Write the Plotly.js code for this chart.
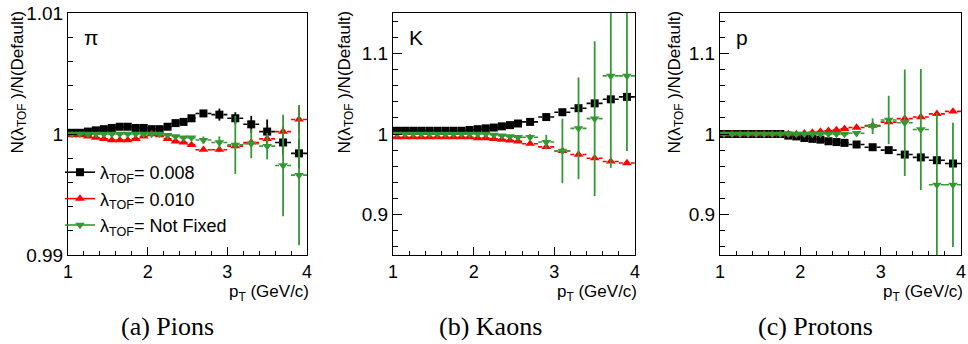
<!DOCTYPE html>
<html><head><meta charset="utf-8">
<script src="https://cdn.plot.ly/plotly-3.0.1.min.js"></script>
<style>html,body{margin:0;padding:0;background:#fff}#chart{width:968px;height:344px}</style>
</head><body><div id="chart"></div>
<script>
// ---- data ----
const pT = [1.05,1.15,1.25,1.35,1.45,1.55,1.65,1.75,1.85,1.95,2.05,2.15,2.25,2.35,2.45,2.55,2.7,2.9,3.1,3.3,3.5,3.7,3.9];
const pTHalfWidth = [0.05,0.05,0.05,0.05,0.05,0.05,0.05,0.05,0.05,0.05,0.05,0.05,0.05,0.05,0.05,0.05,0.1,0.1,0.1,0.1,0.1,0.1,0.1];

const seriesNames = ["λ<sub>TOF</sub>= 0.008", "λ<sub>TOF</sub>= 0.010", "λ<sub>TOF</sub>= Not Fixed"];

// Pions
const pion008 = [1.0001,1.0001,1.0002,1.0003,1.0004,1.0005,1.0006,1.0006,1.0005,1.0005,1.0004,1.0004,1.0006,1.0009,1.0010,1.0013,1.0017,1.0016,1.0013,1.0008,1.0002,0.9993,0.9984];
const pion008Err = [0.00005,0.00005,0.00005,0.00005,0.00005,0.00005,0.00005,0.00005,0.00005,0.00005,0.00005,0.00005,0.00005,0.00005,0.00005,0.00005,0.0002,0.0005,0.0005,0.0007,0.0010,0.0010,0.0012];
const pion010 = [0.9999,0.9999,0.9998,0.9997,0.9996,0.9995,0.9995,0.9995,0.9996,0.9998,1.0000,0.9999,0.9996,0.9994,0.9993,0.9991,0.9987,0.9987,0.9990,0.9993,0.9996,1.0002,1.0012];
const pion010Err = [0.00005,0.00005,0.00005,0.00005,0.00005,0.00005,0.00005,0.00005,0.00005,0.00005,0.00005,0.00005,0.00005,0.00005,0.00005,0.00005,0.0001,0.0002,0.0002,0.0003,0.0003,0.0004,0.0011];
const pionFree = [1.0000,1.0000,1.0000,1.0000,1.0000,1.0000,1.0000,1.0000,1.0000,1.0000,1.0000,1.0000,0.9999,0.9998,0.9997,0.9997,0.9995,0.9993,0.9991,0.9992,0.9990,0.9974,0.9966];
const pionFreeErr = [0.00005,0.00005,0.00005,0.00005,0.00005,0.00005,0.00005,0.00005,0.00005,0.00005,0.00005,0.00005,0.0001,0.0001,0.0001,0.0001,0.0003,0.0005,0.0024,0.0012,0.0011,0.0042,0.0058];

// Kaons
const kaon008 = [1.004,1.004,1.004,1.004,1.004,1.004,1.004,1.004,1.004,1.005,1.006,1.007,1.008,1.0095,1.011,1.013,1.015,1.021,1.027,1.032,1.038,1.043,1.046];
const kaon008Err = [0.0003,0.0003,0.0003,0.0003,0.0003,0.0003,0.0003,0.0003,0.0003,0.0003,0.0003,0.0003,0.0003,0.0003,0.0003,0.0003,0.0008,0.001,0.0015,0.002,0.002,0.003,0.003];
const kaon010 = [0.996,0.996,0.996,0.996,0.996,0.996,0.996,0.996,0.996,0.996,0.995,0.995,0.994,0.993,0.992,0.991,0.988,0.984,0.979,0.9745,0.970,0.966,0.964];
const kaon010Err = [0.0003,0.0003,0.0003,0.0003,0.0003,0.0003,0.0003,0.0003,0.0003,0.0003,0.0003,0.0003,0.0003,0.0003,0.0003,0.0003,0.0005,0.0008,0.001,0.0012,0.0015,0.002,0.002];
const kaonFree = [1.000,1.000,1.000,1.000,1.000,1.000,1.000,1.000,1.000,1.000,1.000,1.000,0.999,0.998,0.997,0.996,0.996,0.990,0.979,1.007,1.019,1.072,1.072];
const kaonFreeErr = [0.0005,0.0005,0.0005,0.0005,0.0005,0.0005,0.0005,0.0005,0.0005,0.0005,0.0005,0.0005,0.001,0.001,0.0015,0.0015,0.004,0.009,0.040,0.063,0.096,0.114,0.093];

// Protons
const proton008 = [1.000,1.000,1.000,1.000,1.000,1.000,1.000,1.000,0.998,0.997,0.995,0.994,0.993,0.991,0.990,0.989,0.987,0.9836,0.980,0.9745,0.971,0.9675,0.9634];
const proton008Err = [0.0003,0.0003,0.0003,0.0003,0.0003,0.0003,0.0003,0.0003,0.0003,0.0003,0.0003,0.0003,0.0003,0.0003,0.0003,0.0003,0.0008,0.001,0.0012,0.0015,0.0018,0.002,0.0025];
const proton010 = [1.000,1.000,1.000,1.000,1.000,1.000,1.000,1.000,1.000,1.000,1.001,1.002,1.003,1.004,1.005,1.0065,1.008,1.0105,1.0147,1.019,1.021,1.025,1.028];
const proton010Err = [0.0003,0.0003,0.0003,0.0003,0.0003,0.0003,0.0003,0.0003,0.0003,0.0003,0.0003,0.0003,0.0003,0.0003,0.0003,0.0003,0.0005,0.0008,0.001,0.0012,0.0015,0.002,0.002];
const protonFree = [1.000,1.000,1.000,1.000,1.000,1.000,1.000,1.000,1.000,1.000,1.000,1.000,1.000,1.000,1.000,1.000,1.001,1.0097,1.0174,1.014,1.0056,0.937,0.937];
const protonFreeErr = [0.0005,0.0005,0.0005,0.0005,0.0005,0.0005,0.0005,0.0005,0.0005,0.0005,0.0005,0.0005,0.0005,0.0005,0.0005,0.0005,0.002,0.0097,0.030,0.066,0.075,0.089,0.077];

const particleLabels = ["π", "K", "p"];
const captions = ["(a) Pions", "(b) Kaons", "(c) Protons"];
const xTitle = "p<sub>T</sub> (GeV/c)";
const yTitle = "N(λ<sub>TOF</sub> )/N(Default)";

// ---- styles / layout ----
const W = 968, H = 344;
const fx = v => v / W, fy = v => 1 - v / H;
const FONT = "Liberation Sans, Arial, Helvetica, sans-serif";
const colors = ["#000000", "#ff0000", "#339933"];
const symbols = ["square", "triangle-up", "triangle-down"];
const msize = [8, 8.5, 8.5];

const panels = [
  {vals:[pion008,pion010,pionFree], errs:[pion008Err,pion010Err,pionFreeErr], xpx:[68,307], yrange:[0.99,1.01], ydtick:0.01, yminor:0.002, ytitleX:18},
  {vals:[kaon008,kaon010,kaonFree], errs:[kaon008Err,kaon010Err,kaonFreeErr], xpx:[393,635], yrange:[0.85,1.15], ydtick:0.1, yminor:0.02, ytitleX:345},
  {vals:[proton008,proton010,protonFree], errs:[proton008Err,proton010Err,protonFreeErr], xpx:[720,961], yrange:[0.85,1.15], ydtick:0.1, yminor:0.02, ytitleX:675}
];
const yDomain = [fy(255), fy(13)];

const traces = [];
const layout = {
  width: W, height: H,
  margin: {l:0, r:0, t:0, b:0},
  paper_bgcolor: "#ffffff", plot_bgcolor: "#ffffff",
  font: {family: FONT, color: "#000", size: 16},
  showlegend: true,
  legend: {x: fx(60), y: fy(154), xanchor: "left", yanchor: "top", bgcolor: "rgba(0,0,0,0)",
           font: {family: FONT, size: 18, color: "#000"}, traceorder: "grouped", tracegroupgap: 0,
           itemwidth: 30},
  annotations: []
};

panels.forEach((p, i) => {
  const k = i === 0 ? "" : String(i + 1);
  const xa = "x" + k, ya = "y" + k;
  layout["xaxis" + k] = {
    domain: [fx(p.xpx[0]), fx(p.xpx[1])], anchor: ya, range: [1, 4], tick0: 1, dtick: 1,
    ticks: "inside", ticklen: 8, tickwidth: 1, tickcolor: "#000",
    minor: {dtick: 0.2, ticks: "inside", ticklen: 4, tickwidth: 1, tickcolor: "#000", showgrid: false},
    showline: true, mirror: true, linecolor: "#000", linewidth: 1,
    showgrid: false, zeroline: false, tickfont: {size: 18, family: FONT}, fixedrange: true
  };
  layout["yaxis" + k] = {
    domain: yDomain, anchor: xa, range: p.yrange, tick0: 1, dtick: p.ydtick,
    ticks: "inside", ticklen: 9, tickwidth: 1, tickcolor: "#000",
    minor: {dtick: p.yminor, ticks: "inside", ticklen: 5, tickwidth: 1, tickcolor: "#000", showgrid: false},
    showline: true, mirror: true, linecolor: "#000", linewidth: 1,
    showgrid: false, zeroline: false, tickfont: {size: 19, family: FONT}, fixedrange: true
  };

  for (let s = 0; s < 3; s++) {
    const v = p.vals[s], e = p.errs[s];
    // dashed horizontal bin-width bars
    const hx = [], hy = [];
    pT.forEach((x, j) => { hx.push(x - pTHalfWidth[j], x + pTHalfWidth[j], null); hy.push(v[j], v[j], null); });
    traces.push({type: "scatter", mode: "lines", x: hx, y: hy, xaxis: xa, yaxis: ya,
      line: {color: colors[s], width: 1.6, dash: "4px,2px"}, showlegend: false,
      legendgroup: "g" + s, hoverinfo: "skip"});
    // markers with vertical error bars (points separated so no connecting line is drawn)
    const mx = [], my = [], me = [];
    pT.forEach((x, j) => { mx.push(x, null); my.push(v[j], null); me.push(e[j], null); });
    traces.push({type: "scatter", mode: "lines+markers", x: mx, y: my, xaxis: xa, yaxis: ya,
      name: seriesNames[s], legendgroup: "g" + s, showlegend: i === 0, connectgaps: false,
      line: {color: colors[s], width: 1.6},
      marker: {symbol: symbols[s], size: msize[s], color: colors[s], line: {width: 0}},
      error_y: {type: "data", array: me, visible: true, color: colors[s], thickness: 1.8, width: 0}});
  }

  // axis titles and labels as annotations
  layout.annotations.push({xref: "paper", yref: "paper", x: fx(p.ytitleX), y: fy(9), xanchor: "center", yanchor: "top",
    textangle: -90, text: yTitle, showarrow: false, font: {size: 17, family: FONT}});
  layout.annotations.push({xref: "paper", yref: "paper", x: fx(p.xpx[1] + 4), y: fy(280), xanchor: "right", yanchor: "top",
    text: xTitle, showarrow: false, font: {size: 17, family: FONT}});
  layout.annotations.push({xref: "paper", yref: "paper", x: fx(p.xpx[0] + 14), y: fy(38), xanchor: "left", yanchor: "middle",
    text: particleLabels[i], showarrow: false, font: {size: 21, family: FONT}});
  layout.annotations.push({xref: "paper", yref: "paper", x: fx([167, 490, 815][i]), y: fy(326), xanchor: "center", yanchor: "middle",
    text: captions[i], showarrow: false, font: {size: 26, family: "Liberation Serif, Times New Roman, serif"}});
});

Plotly.newPlot("chart", traces, layout, {staticPlot: true, displayModeBar: false});
</script></body></html>
